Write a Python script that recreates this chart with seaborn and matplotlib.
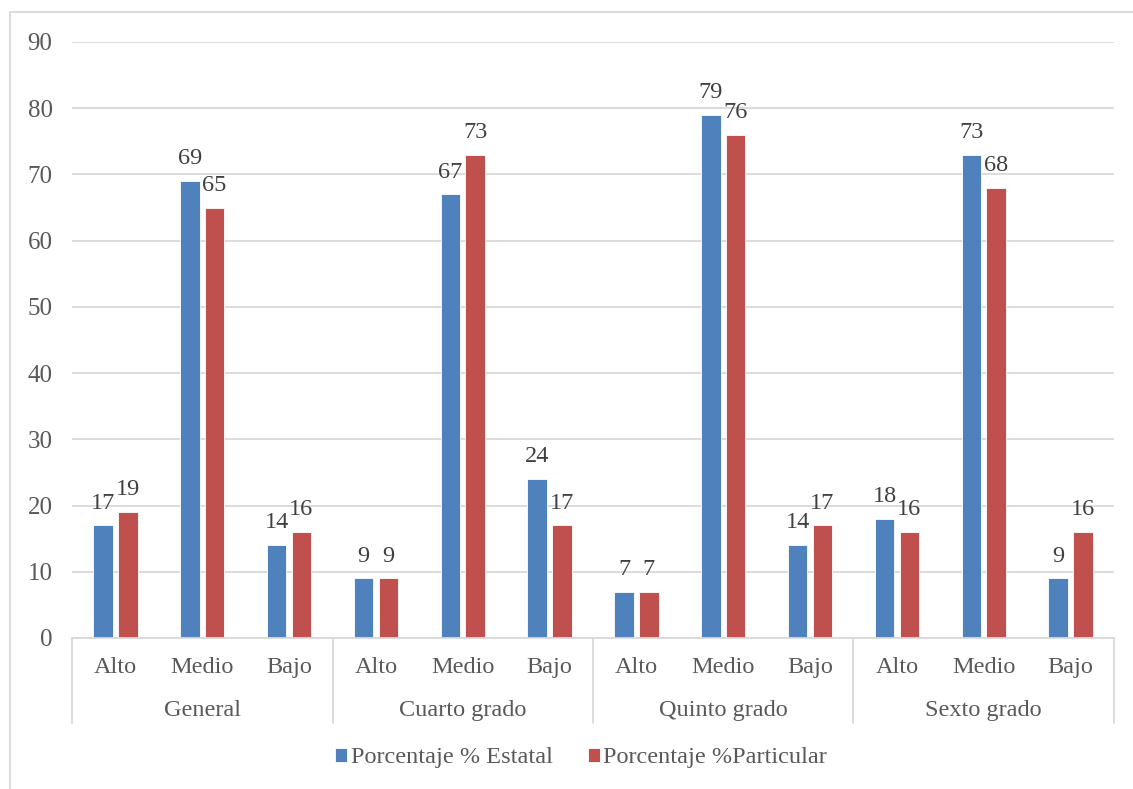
import matplotlib
matplotlib.use("Agg")
import matplotlib.pyplot as plt
import matplotlib.transforms as mtransforms
from matplotlib.patches import Rectangle
import pandas as pd
import seaborn as sns

# data
groups = ["General", "Cuarto grado", "Quinto grado", "Sexto grado"]
levels = ["Alto", "Medio", "Bajo"]
estatal = [17, 69, 14, 9, 67, 24, 7, 79, 14, 18, 73, 9]
particular = [19, 65, 16, 9, 73, 17, 7, 76, 17, 16, 68, 16]
series_names = ["Porcentaje % Estatal", "Porcentaje %Particular"]
colors = ["#4F81BD", "#C0504D"]

keys = [g + "|" + l for g in groups for l in levels]
rows = []
for k, v in zip(keys, estatal):
    rows.append({"cat": k, "serie": series_names[0], "valor": v})
for k, v in zip(keys, particular):
    rows.append({"cat": k, "serie": series_names[1], "valor": v})
df = pd.DataFrame(rows)

sns.set_style("white")
plt.rcParams["font.family"] = ["Liberation Serif", "DejaVu Serif"]
text_color = "#595959"
grid_color = "#D9D9D9"

fig = plt.figure(figsize=(11.33, 7.89), dpi=100)
ax = fig.add_axes([72 / 1133, 1 - 638 / 789, (1114 - 72) / 1133, (638 - 42) / 789])

sns.barplot(data=df, x="cat", y="valor", hue="serie", order=keys,
            hue_order=series_names, palette=colors, width=0.57, gap=0.215,
            edgecolor="white", linewidth=0.6, saturation=1, ax=ax, legend=True)

for cont in ax.containers:
    ax.bar_label(cont, fmt="%g", padding=8.5, fontsize=17.5, color="#404040")

ax.set_ylim(0, 90)
ax.set_xlim(-0.5, len(keys) - 0.5)
ax.set_yticks(range(0, 91, 10))
ax.yaxis.grid(True, color=grid_color, linewidth=1.3)
ax.set_axisbelow(True)
for s in ["top", "right", "left"]:
    ax.spines[s].set_visible(False)
ax.spines["bottom"].set_color(grid_color)
ax.spines["bottom"].set_linewidth(1.3)
ax.tick_params(axis="y", length=0, pad=14, labelsize=18, labelcolor=text_color)
ax.tick_params(axis="x", length=0, pad=14, labelsize=17.5, labelcolor=text_color)
ax.set_xticks(range(len(keys)))
ax.set_xticklabels([k.split("|")[1] for k in keys])
ax.set_xlabel("")
ax.set_ylabel("")

# group labels and separators below the axis
trans = mtransforms.blended_transform_factory(ax.transData, ax.transAxes)
for i, g in enumerate(groups):
    ax.text(i * 3 + 1, -0.122, g, transform=trans, ha="center", va="center",
            fontsize=17.5, color=text_color)
for i in range(len(groups) + 1):
    x = i * 3 - 0.5
    ax.plot([x, x], [0, -0.1426], transform=trans, color=grid_color,
            linewidth=1.3, clip_on=False)

# legend at the bottom
handles, labels = ax.get_legend_handles_labels()
ax.legend_.remove()
fig.legend(handles, labels, loc="center", bbox_to_anchor=(581 / 1133, 1 - 758 / 789),
           ncol=2, frameon=False, fontsize=17.5, labelcolor=text_color,
           handlelength=0.5, handleheight=0.5, handletextpad=0.15, columnspacing=1.45)

# chart area border
fig.patches.append(Rectangle((10 / 1133, -0.2), 1.5, 1.2 - 12 / 789, transform=fig.transFigure,
                             fill=False, edgecolor=grid_color, linewidth=1.3))

fig.savefig("out.png", dpi=100, facecolor="white")
